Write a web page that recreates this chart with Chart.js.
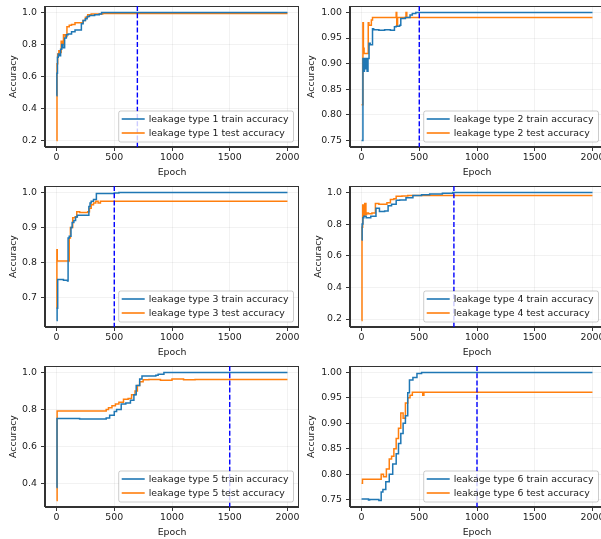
<!DOCTYPE html>
<html>
<head>
<meta charset="utf-8">
<script src="https://cdn.jsdelivr.net/npm/chart.js@4.4.1/dist/chart.umd.min.js"></script>
<style>
  html, body { margin: 0; padding: 0; background: #fff; overflow: hidden; width: 601px; height: 539px; }
  canvas { position: absolute; }
</style>
</head>
<body>
<script>
/* ticks shared by every panel */
var xTicks = [0, 500, 1000, 1500, 2000];

/* leakage type 1 */
var train1Epoch = [0, 3, 8, 15, 25, 35, 45, 55, 70, 85, 100, 130, 160, 200, 215, 230, 250, 265, 285, 330, 370, 390, 420, 2000];
var train1Acc   = [0.48, 0.62, 0.72, 0.74, 0.73, 0.77, 0.80, 0.78, 0.84, 0.86, 0.865, 0.88, 0.89, 0.89, 0.93, 0.95, 0.96, 0.975, 0.98, 0.985, 0.99, 1.0, 1.0, 1.0];
var test1Epoch  = [0, 4, 10, 20, 30, 40, 50, 60, 75, 90, 110, 130, 160, 200, 230, 250, 270, 300, 400, 2000];
var test1Acc    = [0.2, 0.68, 0.74, 0.76, 0.75, 0.82, 0.80, 0.86, 0.85, 0.91, 0.92, 0.925, 0.935, 0.935, 0.95, 0.97, 0.985, 0.99, 0.993, 0.993];
var yTicks1 = ['0.2', '0.4', '0.6', '0.8', '1.0'];

/* leakage type 2 */
var train2Epoch = [0, 12, 18, 25, 32, 40, 48, 56, 65, 75, 95, 105, 150, 200, 250, 285, 300, 330, 340, 380, 420, 440, 470, 2000];
var train2Acc   = [0.75, 0.91, 0.885, 0.91, 0.89, 0.91, 0.885, 0.91, 0.94, 0.937, 0.968, 0.966, 0.965, 0.966, 0.965, 0.972, 0.973, 0.975, 0.988, 0.99, 0.995, 0.998, 1.0, 1.0];
var test2Epoch  = [0, 12, 16, 22, 58, 64, 85, 95, 105, 300, 305, 312, 322, 385, 392, 400, 2000];
var test2Acc    = [0.82, 0.98, 0.93, 0.92, 0.98, 0.975, 0.985, 0.99, 0.99, 1.0, 0.975, 0.99, 0.99, 1.0, 0.99, 0.99, 0.99];
var yTicks2 = ['0.75', '0.80', '0.85', '0.90', '0.95', '1.00'];

/* leakage type 3 */
var train3Epoch = [0, 5, 10, 60, 95, 100, 110, 125, 135, 150, 165, 180, 200, 280, 290, 300, 320, 345, 360, 500, 540, 2000];
var train3Acc   = [0.635, 0.67, 0.752, 0.75, 0.748, 0.87, 0.875, 0.9, 0.914, 0.92, 0.93, 0.935, 0.935, 0.96, 0.97, 0.975, 0.98, 0.997, 0.997, 0.998, 1.0, 1.0];
var test3Epoch  = [0, 3, 6, 100, 110, 120, 140, 160, 175, 200, 270, 285, 300, 320, 340, 360, 380, 2000];
var test3Acc    = [0.67, 0.837, 0.805, 0.805, 0.87, 0.9, 0.928, 0.93, 0.945, 0.943, 0.945, 0.955, 0.965, 0.97, 0.975, 0.97, 0.975, 0.975];
var yTicks3 = ['0.7', '0.8', '0.9', '1.0'];

/* leakage type 4 */
var train4Epoch = [0, 5, 12, 20, 40, 80, 125, 155, 200, 230, 260, 300, 330, 385, 445, 520, 590, 700, 790, 2000];
var train4Acc   = [0.7, 0.8, 0.84, 0.85, 0.84, 0.85, 0.9, 0.88, 0.882, 0.915, 0.925, 0.95, 0.952, 0.966, 0.98, 0.985, 0.99, 0.995, 1.0, 1.0];
var test4Epoch  = [0, 4, 10, 18, 28, 38, 45, 60, 90, 120, 150, 220, 250, 280, 300, 350, 400, 450, 500, 2000];
var test4Acc    = [0.19, 0.78, 0.92, 0.85, 0.93, 0.86, 0.87, 0.865, 0.87, 0.93, 0.925, 0.935, 0.955, 0.96, 0.975, 0.978, 0.98, 0.98, 0.98, 0.98];
var yTicks4 = ['0.2', '0.4', '0.6', '0.8', '1.0'];

/* leakage type 5 */
var train5Epoch = [0, 4, 200, 430, 460, 500, 520, 560, 600, 640, 670, 690, 720, 740, 860, 880, 930, 2000];
var train5Acc   = [0.38, 0.752, 0.749, 0.755, 0.77, 0.79, 0.8, 0.83, 0.835, 0.85, 0.88, 0.93, 0.965, 0.98, 0.985, 0.99, 1.0, 1.0];
var test5Epoch  = [0, 5, 430, 450, 480, 510, 540, 580, 620, 650, 680, 700, 720, 750, 800, 900, 1000, 1100, 1200, 1300, 2000];
var test5Acc    = [0.31, 0.792, 0.8, 0.81, 0.82, 0.83, 0.84, 0.855, 0.86, 0.88, 0.9, 0.93, 0.95, 0.96, 0.962, 0.958, 0.965, 0.96, 0.962, 0.962, 0.962];
var yTicks5 = ['0.4', '0.6', '0.8', '1.0'];

/* leakage type 6 */
var train6Epoch = [0, 60, 70, 150, 170, 185, 210, 240, 270, 300, 320, 340, 360, 380, 400, 415, 445, 480, 520, 2000];
var train6Acc   = [0.751, 0.749, 0.75, 0.748, 0.765, 0.77, 0.785, 0.8, 0.82, 0.84, 0.86, 0.88, 0.9, 0.915, 0.96, 0.985, 0.99, 0.998, 1.0, 1.0];
var test6Epoch  = [0, 8, 170, 190, 215, 240, 260, 280, 300, 320, 340, 360, 380, 400, 420, 440, 530, 540, 2000];
var test6Acc    = [0.782, 0.79, 0.8, 0.795, 0.81, 0.83, 0.835, 0.85, 0.87, 0.89, 0.92, 0.91, 0.94, 0.95, 0.955, 0.961, 0.955, 0.961, 0.961];
var yTicks6 = ['0.75', '0.80', '0.85', '0.90', '0.95', '1.00'];

/* epoch of the dashed marker in each panel */
var stopEpoch = [700, 500, 500, 800, 1500, 1000];

var panels = [
  { n: 1, trainE: train1Epoch, trainA: train1Acc, testE: test1Epoch, testA: test1Acc, yTicks: yTicks1 },
  { n: 2, trainE: train2Epoch, trainA: train2Acc, testE: test2Epoch, testA: test2Acc, yTicks: yTicks2 },
  { n: 3, trainE: train3Epoch, trainA: train3Acc, testE: test3Epoch, testA: test3Acc, yTicks: yTicks3 },
  { n: 4, trainE: train4Epoch, trainA: train4Acc, testE: test4Epoch, testA: test4Acc, yTicks: yTicks4 },
  { n: 5, trainE: train5Epoch, trainA: train5Acc, testE: test5Epoch, testA: test5Acc, yTicks: yTicks5 },
  { n: 6, trainE: train6Epoch, trainA: train6Acc, testE: test6Epoch, testA: test6Acc, yTicks: yTicks6 }
];

/* placement of the plot areas on the page */
var AXIS_W = 45, AXIS_H = 32, AREA_W = 254, AREA_H = 141;
var areaLeft = [45, 350];
var areaTop = [6, 186, 366];

var FONT = { family: 'DejaVu Sans', size: 9.4 };
var INK = '#1a1a1a';

function pts(ep, acc) {
  return ep.map(function (e, i) { return { x: e, y: acc[i] }; });
}

// dark frame around the plot area
var framePlugin = {
  id: 'frame',
  afterDatasetsDraw: function (chart) {
    var a = chart.chartArea, ctx = chart.ctx;
    ctx.save();
    ctx.strokeStyle = '#333';
    ctx.lineWidth = 1;
    ctx.strokeRect(Math.round(a.left) - 0.5, Math.round(a.top) + 0.5, Math.round(a.right - a.left), Math.round(a.bottom - a.top) - 1);
    ctx.restore();
  }
};

// dashed vertical marker + legend box in the lower right corner
var markerPlugin = {
  id: 'marker',
  afterDraw: function (chart) {
    var p = chart.options.plugins.marker;
    var a = chart.chartArea, ctx = chart.ctx;
    var x = chart.scales.x.getPixelForValue(p.epoch);
    ctx.save();
    ctx.beginPath();
    ctx.rect(a.left, a.top, a.right - a.left, a.bottom - a.top);
    ctx.clip();
    ctx.strokeStyle = '#0000ff';
    ctx.lineWidth = 1.4;
    ctx.setLineDash([5, 2.2]);
    ctx.beginPath();
    ctx.moveTo(x, a.top);
    ctx.lineTo(x, a.bottom);
    ctx.stroke();
    ctx.restore();

    ctx.save();
    ctx.font = FONT.size + 'px "DejaVu Sans"';
    var sets = chart.data.datasets;
    var tw = 0;
    sets.forEach(function (d) { tw = Math.max(tw, ctx.measureText(d.label).width); });
    var w = 3 + 23 + 4 + tw + 5, h = 31;
    var right = a.right - 5.5, bottom = a.bottom - 5;
    var left = right - w, top = bottom - h;
    ctx.beginPath();
    ctx.roundRect(left, top, w, h, 2);
    ctx.fillStyle = 'rgba(255,255,255,0.8)';
    ctx.fill();
    ctx.strokeStyle = 'rgba(0,0,0,0.2)';
    ctx.lineWidth = 1;
    ctx.stroke();
    sets.forEach(function (d, i) {
      var cy = top + 8 + i * 14;
      ctx.strokeStyle = d.borderColor;
      ctx.lineWidth = 1.6;
      ctx.beginPath();
      ctx.moveTo(left + 3, cy);
      ctx.lineTo(left + 26, cy);
      ctx.stroke();
      ctx.fillStyle = INK;
      ctx.textBaseline = 'middle';
      ctx.fillText(d.label, left + 30, cy + 0.5);
    });
    ctx.restore();
  }
};

panels.forEach(function (p, k) {
  var col = k % 2, row = Math.floor(k / 2);
  var cv = document.createElement('canvas');
  cv.width = AXIS_W + AREA_W;
  cv.height = AREA_H + AXIS_H;
  cv.style.left = (areaLeft[col] - AXIS_W) + 'px';
  cv.style.top = areaTop[row] + 'px';
  cv.style.width = cv.width + 'px';
  cv.style.height = cv.height + 'px';
  document.body.appendChild(cv);

  var all = p.trainA.concat(p.testA);
  var lo = Math.min.apply(null, all), hi = Math.max.apply(null, all);
  var pad = (hi - lo) * 0.05;
  var twoDecimals = p.yTicks[0].length > 3;

  new Chart(cv.getContext('2d'), {
    type: 'line',
    data: {
      datasets: [
        { label: 'leakage type ' + p.n + ' train accuracy', data: pts(p.trainE, p.trainA), borderColor: '#1f77b4', borderWidth: 1.5, stepped: true, fill: false },
        { label: 'leakage type ' + p.n + ' test accuracy', data: pts(p.testE, p.testA), borderColor: '#ff7f0e', borderWidth: 1.5, stepped: true, fill: false }
      ]
    },
    options: {
      responsive: false,
      animation: false,
      devicePixelRatio: 1,
      layout: { padding: 0 },
      elements: { point: { radius: 0 } },
      plugins: {
        legend: { display: false },
        tooltip: { enabled: false },
        marker: { epoch: stopEpoch[k] }
      },
      scales: {
        x: {
          type: 'linear',
          min: -100,
          max: 2100,
          afterBuildTicks: function (s) { s.ticks = xTicks.map(function (v) { return { value: v }; }); },
          afterFit: function (s) { s.height = AXIS_H; s.paddingLeft = 0; s.paddingRight = 0; s.paddingTop = 0; s.paddingBottom = 0; },
          ticks: { font: FONT, color: INK, padding: 1, maxRotation: 0, autoSkip: false, callback: function (v) { return String(v); } },
          grid: { color: 'rgba(0,0,0,0.05)', tickColor: '#333', tickLength: 4 },
          border: { color: '#333', width: 1 },
          title: { display: true, text: 'Epoch', font: FONT, color: INK, padding: { top: 0, bottom: 1 } }
        },
        y: {
          type: 'linear',
          min: lo - pad,
          max: hi + pad,
          afterBuildTicks: function (s) { s.ticks = p.yTicks.map(function (v) { return { value: parseFloat(v) }; }); },
          afterFit: function (s) { s.width = AXIS_W; s.paddingLeft = 0; s.paddingRight = 0; s.paddingTop = 0; s.paddingBottom = 0; },
          ticks: { font: FONT, color: INK, padding: 4, autoSkip: false, callback: function (v, i) { return p.yTicks[i]; } },
          grid: { color: 'rgba(0,0,0,0.05)', tickColor: '#333', tickLength: 4 },
          border: { color: '#333', width: 1 },
          title: { display: true, text: 'Accuracy', font: FONT, color: INK, padding: { top: twoDecimals ? 1.1 : 7.7, bottom: 0 } }
        }
      }
    },
    plugins: [framePlugin, markerPlugin]
  });
});
</script>
</body>
</html>
